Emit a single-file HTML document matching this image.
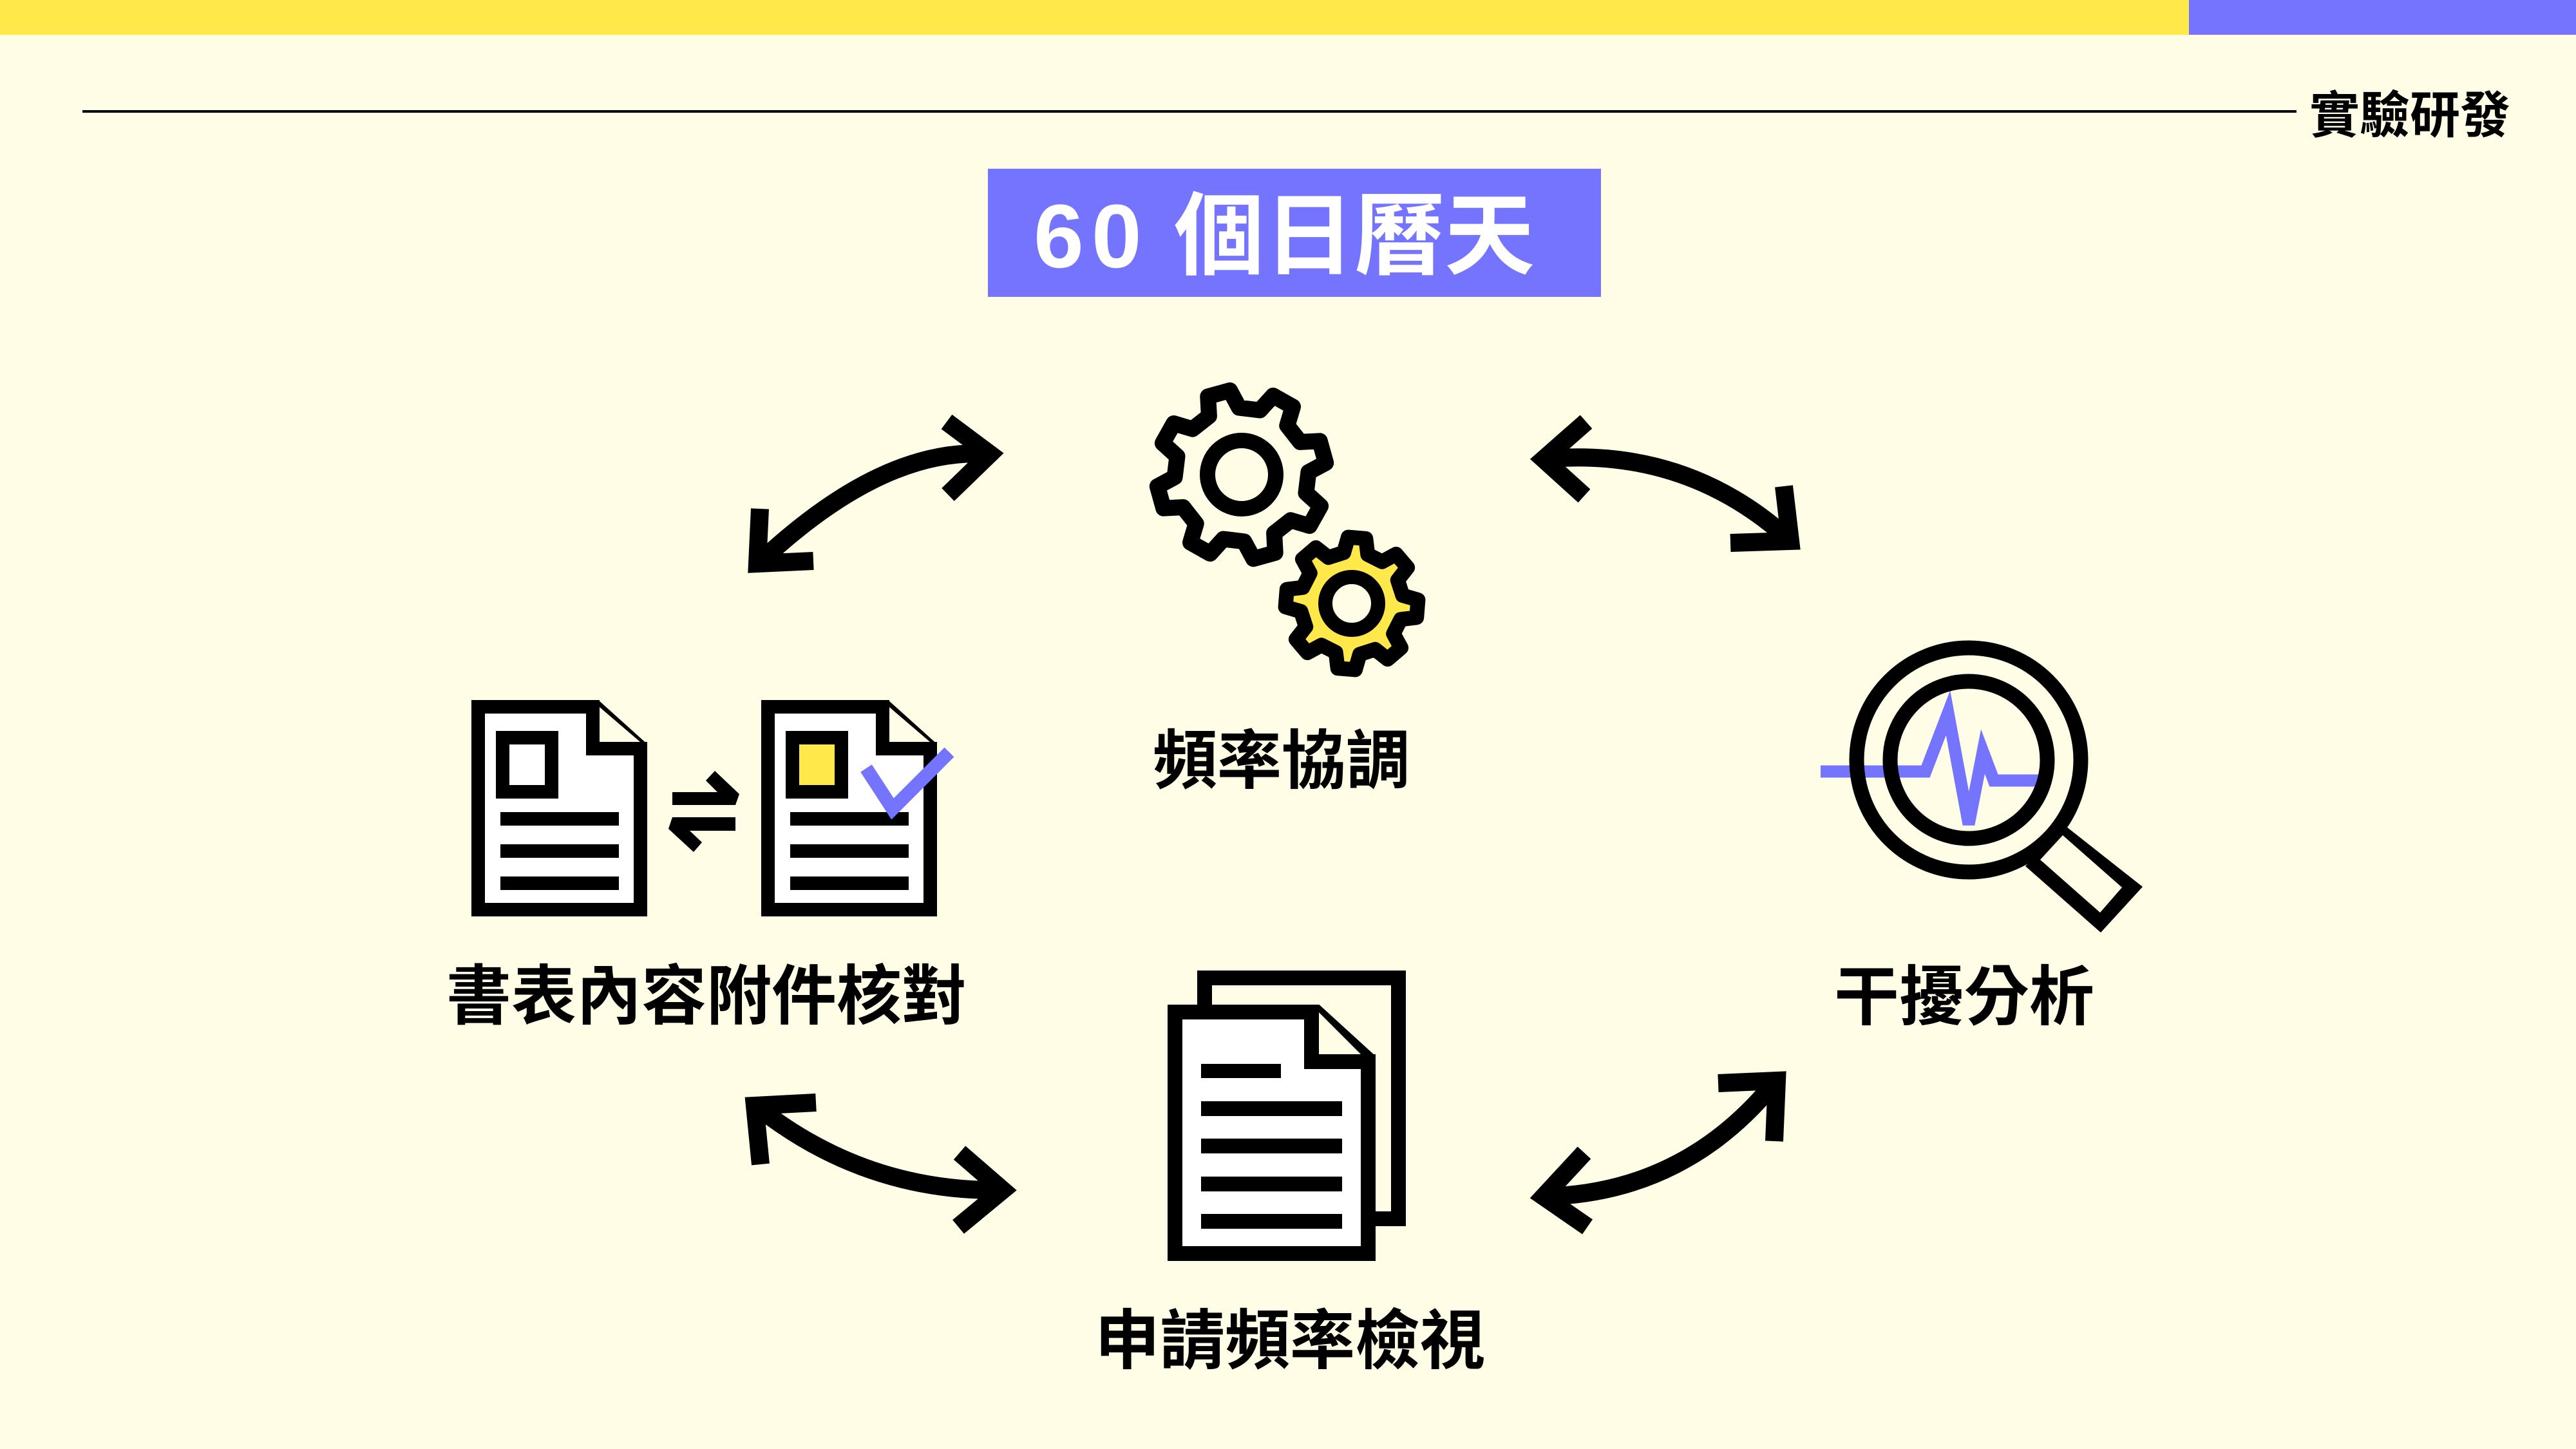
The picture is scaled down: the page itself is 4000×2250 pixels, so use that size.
<!DOCTYPE html>
<html><head><meta charset="utf-8">
<style>
html,body{margin:0;padding:0;background:#FFFDE6;}
svg{display:block;}
text{font-family:"Liberation Sans","Noto Sans CJK TC",sans-serif;font-weight:bold;}
</style></head>
<body>
<svg id="s" width="4000" height="2250" viewBox="0 0 4000 2250" xmlns="http://www.w3.org/2000/svg">
<rect width="4000" height="2250" fill="#FFFDE6"/>
<rect x="0" y="0" width="3399" height="54" fill="#FFE94A"/>
<rect x="3399" y="0" width="601" height="54" fill="#7474FF"/>
<rect x="128" y="171" width="3438" height="4" fill="#000"/>
<text x="3898" y="206" font-size="78" text-anchor="end" fill="#000">實驗研發</text>

<rect x="1534" y="262" width="952" height="199" fill="#7474FF"/>
<text x="1605" y="415" font-size="140" fill="#fff" letter-spacing="12">60</text>
<text x="1823" y="415" font-size="140" fill="#fff">個日曆天</text>

<!-- gears -->
<path id="g1" d="" fill="#FFFDE6" stroke="#000" stroke-width="25" stroke-linejoin="round"/>
<circle cx="1928" cy="737" r="53" fill="#FFFDE6" stroke="#000" stroke-width="24"/>
<path id="g2" d="" fill="#FFE94A" stroke="#000" stroke-width="23" stroke-linejoin="round"/>
<circle cx="2099" cy="937" r="41" fill="#FFFDE6" stroke="#000" stroke-width="22"/>
<text x="1990" y="1216" font-size="100" text-anchor="middle" fill="#000">頻率協調</text>

<!-- left docs -->
<g stroke="#000" stroke-width="21" stroke-linejoin="miter">
<path d="M742.5,1097.5 H925 L994.5,1160 V1412.5 H742.5 Z" fill="#fff"/>
<path d="M920.5,1087 V1162.5 H1005" fill="none"/>
<polygon points="931,1098 994,1152 931,1152" fill="#FFFDE6" stroke="none"/>
<rect x="780.5" y="1145.5" width="76" height="84" fill="#fff"/>
</g>
<g fill="#000">
<rect x="777" y="1261" width="184" height="21"/>
<rect x="777" y="1311" width="184" height="21"/>
<rect x="777" y="1361" width="184" height="21"/>
</g>
<g transform="translate(450,0)">
<g stroke="#000" stroke-width="21" stroke-linejoin="miter">
<path d="M742.5,1097.5 H925 L994.5,1160 V1412.5 H742.5 Z" fill="#fff"/>
<path d="M920.5,1087 V1162.5 H1005" fill="none"/>
<polygon points="931,1098 994,1152 931,1152" fill="#FFFDE6" stroke="none"/>
<rect x="780.5" y="1145.5" width="76" height="84" fill="#FFE94A"/>
</g>
<g fill="#000">
<rect x="777" y="1261" width="184" height="21"/>
<rect x="777" y="1311" width="184" height="21"/>
<rect x="777" y="1361" width="184" height="21"/>
</g>
</g>
<polyline points="1345,1193 1386,1256 1474,1168" fill="none" stroke="#7474FF" stroke-width="21"/>
<polygon points="1044,1230 1114,1230 1096,1212 1110,1197 1148,1233 1142,1250 1044,1250" fill="#000"/>
<polygon points="1142,1269 1142,1290 1071,1290 1090,1308 1077,1323 1038,1287 1044,1269" fill="#000"/>
<text x="1097" y="1582" font-size="101" text-anchor="middle" fill="#000">書表內容附件核對</text>

<!-- magnifier -->
<polyline points="2827,1198 2990,1198 3025,1107 3057,1280 3079,1167 3096,1212 3168,1212" fill="none" stroke="#7474FF" stroke-width="19" stroke-linejoin="miter"/>
<circle cx="3057" cy="1180" r="174" fill="none" stroke="#000" stroke-width="23"/>
<circle cx="3057" cy="1180" r="122" fill="none" stroke="#000" stroke-width="23"/>
<path d="M3204,1280 L3327,1377 L3262,1448 L3145,1345 Z M3203,1297 L3168,1335 L3261,1417 L3295,1378 Z" fill="#000" fill-rule="evenodd"/>
<text x="3050" y="1583" font-size="101" text-anchor="middle" fill="#000">干擾分析</text>

<!-- bottom doc -->
<g stroke="#000" stroke-width="23">
<rect x="1870.5" y="1518.5" width="301" height="374" fill="#FFFDE6"/>
<path d="M1824.5,1571.5 H2044 L2124.5,1645 V1946.5 H1824.5 Z" fill="#fff"/>
<path d="M2036.5,1560 V1648.5 H2136" fill="none"/>
</g>
<polygon points="2048,1572 2113,1637 2048,1637" fill="#FFFDE6"/>
<g fill="#000">
<rect x="1865" y="1652" width="124" height="22"/>
<rect x="1865" y="1710" width="219" height="23"/>
<rect x="1865" y="1768" width="219" height="23"/>
<rect x="1865" y="1827" width="219" height="23"/>
<rect x="1865" y="1885" width="219" height="23"/>
</g>
<text x="2003" y="2117" font-size="101" text-anchor="middle" fill="#000">申請頻率檢視</text>

<!-- arrows -->
<g fill="none" stroke="#000" stroke-width="28" stroke-linejoin="miter" stroke-miterlimit="10">
<path d="M1185,868 Q1374,693 1535,705"/>
<path d="M1470,655 L1537,705 L1472,768"/>
<path d="M1180,790 L1176,875 L1263,871"/>

<path d="M2395,713 Q2615,692 2775,835"/>
<path d="M2463,655 L2397,713 L2460,770"/>
<path d="M2770,755 L2780,840 L2687,843"/>

<path d="M1180,1722 Q1346,1851 1555,1848"/>
<path d="M1267,1712 L1172,1717 L1181,1808"/>
<path d="M1490,1790 L1557,1848 L1488,1905"/>

<path d="M2395,1858 Q2612,1854 2752,1685"/>
<path d="M2460,1790 L2397,1858 L2465,1905"/>
<path d="M2668,1682 L2759,1678 L2755,1772"/>
</g>
</svg>
<script>
function gear(cx,cy,rt,rr,n,phase){
  var p=2*Math.PI/n, pts=[];
  for(var i=0;i<n;i++){
    var a=phase+i*p;
    [[rr,-0.30],[rt,-0.17],[rt,0.17],[rr,0.30]].forEach(function(q){
      var ang=a+q[1]*p;
      pts.push((cx+q[0]*Math.cos(ang)).toFixed(1)+','+(cy+q[0]*Math.sin(ang)).toFixed(1));
    });
  }
  return 'M'+pts.join(' L')+' Z';
}
document.getElementById('g1').setAttribute('d',gear(1928,737,132,104,8,-Math.PI/2+Math.PI/8+0.12));
document.getElementById('g2').setAttribute('d',gear(2099,937,103,80,8,-Math.PI/2+0.08));
</script>
</body></html>
